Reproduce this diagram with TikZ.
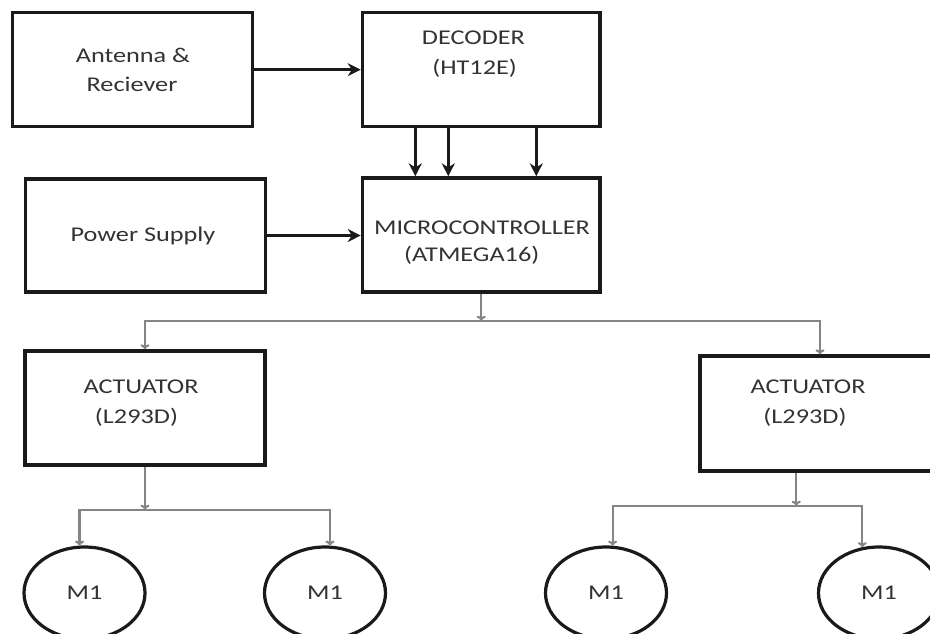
\documentclass[tikz,border=0pt]{standalone}
\usepackage{fontspec}
\setmainfont{Carlito}[FakeStretch=1.25]
\usetikzlibrary{arrows.meta,shapes.geometric}
\definecolor{ink}{HTML}{1A1A1A}
\definecolor{wire}{HTML}{858585}
\definecolor{txt}{HTML}{333333}
\begin{document}
\begin{tikzpicture}[x=1pt,y=-1pt,
  blockbox/.style={draw=ink, line width=3.4pt, rectangle, inner sep=0pt},
  boxtext/.style={text=txt, font=\fontsize{21}{25}\selectfont, inner sep=0pt},
  motor/.style={draw=ink, line width=3.2pt, ellipse, minimum width=121pt,
    minimum height=92pt, inner sep=0pt, text=txt, font=\fontsize{21}{25}\selectfont},
  busarrow/.style={draw=ink, line width=3.3pt, -{Stealth[length=13pt,width=13pt]}},
  wirearrow/.style={draw=wire, line width=2.1pt, -{To[length=5pt,width=9pt]}}]
\clip (0,0) rectangle (930,633);
\fill[white] (0,0) rectangle (930,633);

% blocks
\node[blockbox, minimum width=240pt, minimum height=114pt] (ant) at (132.6,69.7) {};
\node[blockbox, minimum width=237.6pt, minimum height=114pt] (dec) at (481.2,69.7) {};
\node[blockbox, minimum width=239.6pt, minimum height=113pt] (psu) at (145.4,235.5) {};
\node[blockbox, minimum width=237.6pt, minimum height=114pt] (mcu) at (481.2,235) {};
\node[blockbox, minimum width=240pt, minimum height=114pt] (lact) at (145,408) {};
\node[blockbox, minimum width=240pt, minimum height=115pt] (ract) at (820,413.5) {};

% block captions
\node[boxtext] (antA) at (133,55) {Antenna \&};
\node[boxtext] (antB) at (132,84) {Reciever};
\node[boxtext] (decA) at (473.5,37.5) {DECODER};
\node[boxtext] (decB) at (474.6,68.5) {(HT12E)};
\node[boxtext] (psuA) at (143,236) {Power Supply};
\node[boxtext] (mcuA) at (482,228) {MICROCONTROLLER};
\node[boxtext] (mcuB) at (471.7,255.5) {(ATMEGA16)};
\node[boxtext] (lactA) at (141,387) {ACTUATOR};
\node[boxtext] (lactB) at (136.5,417.5) {(L293D)};
\node[boxtext] (ractA) at (808,387) {ACTUATOR};
\node[boxtext] (ractB) at (805,417.5) {(L293D)};

% motors
\node[motor] (m1a) at (84.5,593) {M1};
\node[motor] (m1b) at (325,593) {M1};
\node[motor] (m1c) at (606,593) {M1};
\node[motor] (m1d) at (879,593) {M1};

% receiver and supply inputs
\draw[busarrow] (ant.east) -- (dec.west);
\draw[busarrow] (psu.east) -- (psu.east -| mcu.west);

% decoder data lines
\draw[busarrow] ([xshift=54.6pt]dec.south west) -- ([xshift=54.6pt]mcu.north west);
\draw[busarrow] ([xshift=87.6pt]dec.south west) -- ([xshift=87.6pt]mcu.north west);
\draw[busarrow] ([xshift=175.6pt]dec.south west) -- ([xshift=175.6pt]mcu.north west);

% controller to actuators
\path (mcu.south) ++(0,27) coordinate (split);
\draw[wirearrow] (mcu.south) -- (split);
\draw[wirearrow] (split) -| (lact.north);
\draw[wirearrow] (split) -| (ract.north);

% left actuator to its motors
\path (lact.south) ++(0,43) coordinate (lsplit);
\draw[wirearrow] (lact.south) -- (lsplit);
\draw[wirearrow] (lsplit) -| (m1a.96);
\draw[wirearrow] (lsplit) -| (m1b.84);

% right actuator to its motors
\path ([xshift=98pt]ract.south west) coordinate (rout);
\path (rout) ++(0,33) coordinate (rsplit);
\draw[wirearrow] (rout) -- (rsplit);
\draw[wirearrow] (rsplit) -| (m1c.82);
\draw[wirearrow] (rsplit) -| (m1d.110);
\end{tikzpicture}
\end{document}
